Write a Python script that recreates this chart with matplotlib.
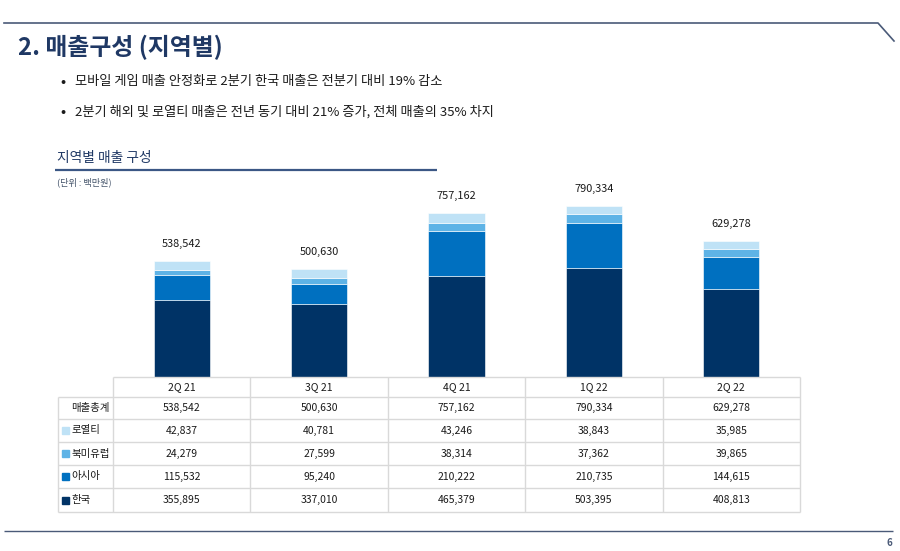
import matplotlib
matplotlib.use("Agg")
import matplotlib.pyplot as plt
from matplotlib.lines import Line2D
from matplotlib.patches import Rectangle
import numpy as np

plt.rcParams['font.family'] = ['Noto Sans CJK KR', 'DejaVu Sans']

# ---- data ----
quarters = ["2Q 21", "3Q 21", "4Q 21", "1Q 22", "2Q 22"]
korea = [355895, 337010, 465379, 503395, 408813]
asia = [115532, 95240, 210222, 210735, 144615]
na_eu = [24279, 27599, 38314, 37362, 39865]
royalty = [42837, 40781, 43246, 38843, 35985]
totals = [538542, 500630, 757162, 790334, 629278]

series_names = ["로열티", "북미유럽", "아시아", "한국"]
series_values = [royalty, na_eu, asia, korea]
total_label = "매출총계"

title = "2. 매출구성 (지역별)"
bullets = ["모바일 게임 매출 안정화로 2분기 한국 매출은 전분기 대비 19% 감소",
           "2분기 해외 및 로열티 매출은 전년 동기 대비 21% 증가, 전체 매출의 35% 차지"]
subtitle = "지역별 매출 구성"
unit_note = "(단위 : 백만원)"
page_no = "6"

# ---- style ----
colors = {"한국": "#003366", "아시아": "#0070c0", "북미유럽": "#5eb3e6", "로열티": "#bfe2f6"}
navy = "#1f3864"
line_col = "#4a5a78"
grid_col = "#d9d9d9"
txt_col = "#1a1a1a"

W, H = 900, 551
fig = plt.figure(figsize=(W / 100, H / 100), dpi=100)
fig.patch.set_facecolor("white")

def fx(x): return x / W
def fy(y): return 1 - y / H

def hline(x0, x1, y, color, lw):
    fig.add_artist(Line2D([fx(x0), fx(x1)], [fy(y), fy(y)], color=color, lw=lw,
                          transform=fig.transFigure, solid_capstyle="butt"))

def vline(x, y0, y1, color, lw):
    fig.add_artist(Line2D([fx(x), fx(x)], [fy(y0), fy(y1)], color=color, lw=lw,
                          transform=fig.transFigure, solid_capstyle="butt"))

# header decoration
fig.add_artist(Line2D([fx(4), fx(878), fx(894)], [fy(23), fy(23), fy(41)], color=line_col,
                      lw=1.2, transform=fig.transFigure))
fig.text(fx(18), fy(47), title, fontsize=17.2, fontweight="bold", color=navy, va="center", ha="left")
for i, b in enumerate(bullets):
    y = 82 + i * 30
    fig.text(fx(60), fy(y), "•", fontsize=11, color=txt_col, va="center", ha="left")
    fig.text(fx(75), fy(y), b, fontsize=9.5, color=txt_col, va="center", ha="left")

fig.text(fx(57), fy(158), subtitle, fontsize=9.9, color=navy, va="center", ha="left", fontweight="medium")
hline(55, 437, 170, "#3b5785", 1.6)
fig.text(fx(57), fy(182), unit_note, fontsize=6.6, color="#44546a", va="center", ha="left")

# bottom line and page number
hline(4, 893, 531, line_col, 1.0)
fig.text(fx(889), fy(543), page_no, fontsize=7, color=line_col, va="center", ha="center", fontweight="bold")

# ---- bar chart ----
col_left, col_right = 113, 800
base_y, top_y = 377, 160.7
ax = fig.add_axes([fx(col_left), fy(base_y), fx(col_right) - fx(col_left), (base_y - top_y) / H])
ax.set_xlim(-0.5, len(quarters) - 0.5)
ax.set_ylim(0, 1000000)
ax.axis("off")
x = np.arange(len(quarters))
bottom = np.zeros(len(quarters))
for name, vals in zip(["한국", "아시아", "북미유럽", "로열티"], [korea, asia, na_eu, royalty]):
    ax.bar(x, vals, width=0.41, bottom=bottom, color=colors[name], edgecolor="white", linewidth=0.4)
    bottom += np.array(vals)
for xi, t in zip(x, totals):
    ax.annotate(f"{t:,}", (xi, t), xytext=(0, 17), textcoords="offset pixels",
                ha="center", va="center", fontsize=7.9, color=txt_col)

# ---- table ----
row_edges = [377, 397, 419, 442, 465, 488, 512]
col_w = (col_right - col_left) / len(quarters)
col_edges = [col_left + i * col_w for i in range(len(quarters) + 1)]
tab_left = 58

hline(col_left, col_right, row_edges[0], grid_col, 1.0)
for y in row_edges[1:]:
    hline(tab_left, col_right, y, grid_col, 1.0)
for xe in col_edges:
    vline(xe, row_edges[0], row_edges[-1], grid_col, 1.0)
vline(tab_left, row_edges[1], row_edges[-1], grid_col, 1.0)

def row_center(i):
    return (row_edges[i] + row_edges[i + 1]) / 2

fs_tab = 7.5
for j, q in enumerate(quarters):
    fig.text(fx(col_left + (j + 0.5) * col_w), fy(row_center(0)), q, fontsize=fs_tab,
             color=txt_col, ha="center", va="center")

rows = [(total_label, None, totals)] + [(n, colors[n], v) for n, v in zip(series_names, series_values)]
for i, (label, col, vals) in enumerate(rows):
    yc = row_center(i + 1)
    if col is not None:
        fig.add_artist(Rectangle((fx(62), fy(yc + 3.5)), 7 / W, 7 / H, color=col,
                                 transform=fig.transFigure))
    fig.text(fx(71), fy(yc), label, fontsize=fs_tab, color=txt_col, ha="left", va="center")
    for j, v in enumerate(vals):
        fig.text(fx(col_left + (j + 0.5) * col_w), fy(yc), f"{v:,}", fontsize=fs_tab,
                 color=txt_col, ha="center", va="center")

fig.savefig("out.png", dpi=100)
